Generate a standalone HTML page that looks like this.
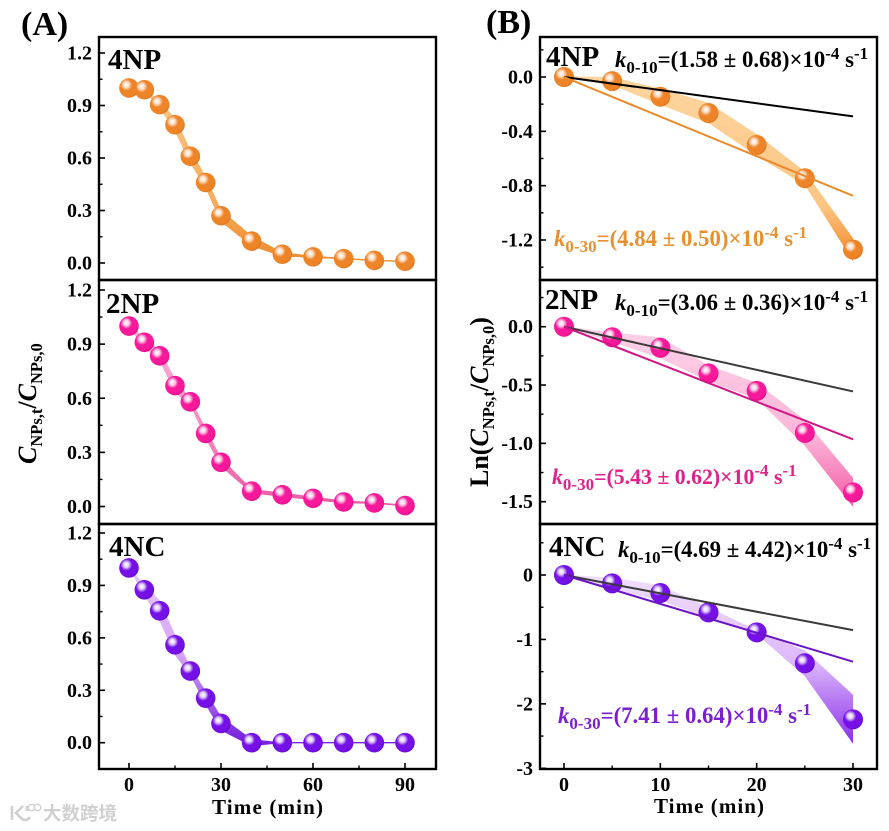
<!DOCTYPE html>
<html lang="en">
<head>
<meta charset="utf-8">
<title>Degradation kinetics of 4NP, 2NP and 4NC</title>
<style>
html,body{margin:0;padding:0;background:#fff;}
svg{display:block;}
text{font-family:"Liberation Serif","Noto Serif CJK SC",serif;font-weight:bold;fill:#000;}
.tick{font-size:20px;}
.tag{font-size:29px;}
.k{font-size:22.8px;}
.wm{font-family:"Liberation Sans","Noto Sans CJK SC",sans-serif;font-weight:700;font-size:18.5px;fill:#d0d0d0;}
</style>
</head>
<body>
<svg id="chart" xmlns="http://www.w3.org/2000/svg" width="889" height="831" viewBox="0 0 889 831">
  <defs id="defs"></defs>
  <g id="marks"></g>

  <text x="21" y="35" font-size="34">(A)</text>
  <text x="486" y="33" font-size="34">(B)</text>

  <text class="tag" x="108" y="69">4NP</text>
  <text class="tag" x="106" y="313">2NP</text>
  <text class="tag" x="109" y="556">4NC</text>
  <text class="tag" x="546" y="66">4NP</text>
  <text class="tag" x="545" y="309">2NP</text>
  <text class="tag" x="549" y="556">4NC</text>

  <text class="k" x="615" y="67"><tspan font-style="italic">k</tspan><tspan font-size="17" dy="6">0-10</tspan><tspan dy="-6">=(1.58 ± 0.68)×10</tspan><tspan font-size="17" dy="-8">-4</tspan><tspan dy="8"> s</tspan><tspan font-size="17" dy="-8">-1</tspan></text>
  <text class="k" x="554" y="246" style="fill:#e8902f"><tspan font-style="italic" style="fill:#e8902f">k</tspan><tspan font-size="17" dy="6" style="fill:#e8902f">0-30</tspan><tspan dy="-6" style="fill:#e8902f">=(4.84 ± 0.50)×10</tspan><tspan font-size="17" dy="-8" style="fill:#e8902f">-4</tspan><tspan dy="8" style="fill:#e8902f"> s</tspan><tspan font-size="17" dy="-8" style="fill:#e8902f">-1</tspan></text>
  <text class="k" x="615" y="310"><tspan font-style="italic">k</tspan><tspan font-size="17" dy="6">0-10</tspan><tspan dy="-6">=(3.06 ± 0.36)×10</tspan><tspan font-size="17" dy="-8">-4</tspan><tspan dy="8"> s</tspan><tspan font-size="17" dy="-8">-1</tspan></text>
  <text class="k" x="552" y="484" font-size="21.5" style="fill:#e0218a;font-size:21.8px"><tspan font-style="italic" style="fill:#e0218a">k</tspan><tspan font-size="17" dy="6" style="fill:#e0218a">0-30</tspan><tspan dy="-6" style="fill:#e0218a">=(5.43 ± 0.62)×10</tspan><tspan font-size="17" dy="-8" style="fill:#e0218a">-4</tspan><tspan dy="8" style="fill:#e0218a"> s</tspan><tspan font-size="17" dy="-8" style="fill:#e0218a">-1</tspan></text>
  <text class="k" x="618" y="557"><tspan font-style="italic">k</tspan><tspan font-size="17" dy="6">0-10</tspan><tspan dy="-6">=(4.69 ± 4.42)×10</tspan><tspan font-size="17" dy="-8">-4</tspan><tspan dy="8"> s</tspan><tspan font-size="17" dy="-8">-1</tspan></text>
  <text class="k" x="558" y="723" style="fill:#7a1fd2"><tspan font-style="italic" style="fill:#7a1fd2">k</tspan><tspan font-size="17" dy="6" style="fill:#7a1fd2">0-30</tspan><tspan dy="-6" style="fill:#7a1fd2">=(7.41 ± 0.64)×10</tspan><tspan font-size="17" dy="-8" style="fill:#7a1fd2">-4</tspan><tspan dy="8" style="fill:#7a1fd2"> s</tspan><tspan font-size="17" dy="-8" style="fill:#7a1fd2">-1</tspan></text>

  <text x="212" y="814" font-size="21" textLength="111">Time (min)</text>
  <text x="654" y="813" font-size="21" textLength="110">Time (min)</text>

  <text transform="translate(36,464) rotate(-90)" font-size="26"><tspan font-style="italic">C</tspan><tspan font-size="16.5" dy="6">NPs,t</tspan><tspan dy="-6" font-size="26">/</tspan><tspan font-style="italic">C</tspan><tspan font-size="16.5" dy="6">NPs,0</tspan></text>
  <text transform="translate(488,487) rotate(-90)" font-size="26">Ln(<tspan font-style="italic">C</tspan><tspan font-size="16.5" dy="6">NPs,t</tspan><tspan dy="-6">/</tspan><tspan font-style="italic">C</tspan><tspan font-size="16.5" dy="6">NPs,0</tspan><tspan dy="-6">)</tspan></text>

  <g>
    <path d="M12 806v14M23 806l-7 7 6 6c3 2 6 1 8-2M27 811v-5" fill="none" stroke="#d0d0d0" stroke-width="2.6"/>
    <circle cx="31.5" cy="807.5" r="3.2" fill="none" stroke="#d0d0d0" stroke-width="1.4"/>
    <circle cx="37.5" cy="807.5" r="3.2" fill="none" stroke="#d0d0d0" stroke-width="1.4"/>
    <text class="wm" x="43" y="820">大数跨境</text>
  </g>
</svg>
<script>
// Shared time axes (minutes)
const timeA = [0, 5, 10, 15, 20, 25, 30, 40, 50, 60, 70, 80, 90];
const timeB = [0, 5, 10, 15, 20, 25, 30];
const fitTime = [0, 30];

// Panel A: C/C0 values and error half-widths
const a4npValues = [1.0, 0.99, 0.905, 0.79, 0.61, 0.46, 0.27, 0.125, 0.05, 0.035, 0.025, 0.015, 0.01];
const a4npErrors = [0.005, 0.01, 0.02, 0.04, 0.04, 0.035, 0.035, 0.03, 0.012, 0.006, 0.004, 0.003, 0.002];
const a2npValues = [1.0, 0.91, 0.835, 0.67, 0.58, 0.405, 0.245, 0.085, 0.065, 0.045, 0.025, 0.02, 0.005];
const a2npErrors = [0.005, 0.03, 0.03, 0.04, 0.02, 0.03, 0.025, 0.012, 0.012, 0.01, 0.008, 0.005, 0.004];
const a4ncValues = [1.0, 0.875, 0.755, 0.56, 0.41, 0.255, 0.11, 0.0, 0.0, 0.0, 0.0, 0.0, 0.0];
const a4ncErrors = [0.005, 0.03, 0.06, 0.06, 0.025, 0.04, 0.04, 0.02, 0.002, 0.002, 0.002, 0.002, 0.002];

// Panel B: ln(C/C0) values, error half-widths, and fit lines
const b4npValues = [0, -0.03, -0.145, -0.265, -0.5, -0.745, -1.27];
const b4npErrors = [0.005, 0.03, 0.06, 0.075, 0.08, 0.05, 0.085];
const b4npFit10 = [0, -0.29];
const b4npFit30 = [0, -0.875];
const b2npValues = [0, -0.09, -0.18, -0.4, -0.55, -0.91, -1.42];
const b2npErrors = [0.005, 0.04, 0.09, 0.07, 0.07, 0.11, 0.125];
const b2npFit10 = [0, -0.555];
const b2npFit30 = [0, -0.965];
const b4ncValues = [0, -0.13, -0.28, -0.58, -0.89, -1.37, -2.24];
const b4ncErrors = [0.005, 0.09, 0.12, 0.08, 0.03, 0.2, 0.38];
const b4ncFit10 = [0, -0.855];
const b4ncFit30 = [0, -1.345];

// Tick values
const aXTicks = [0, 30, 60, 90];
const aXMinor = [15, 45, 75];
const aYTicks = [0, 0.3, 0.6, 0.9, 1.2];
const aYMinor = [0.15, 0.45, 0.75, 1.05];
const bXTicks = [0, 10, 20, 30];
const bXMinor = [5, 15, 25];
const b4npYTicks = [0, -0.4, -0.8, -1.2];
const b4npYMinor = [0.2, -0.2, -0.6, -1.0, -1.4];
const b2npYTicks = [0, -0.5, -1.0, -1.5];
const b2npYMinor = [0.25, -0.25, -0.75, -1.25];
const b4ncYTicks = [0, -1, -2, -3];
const b4ncYMinor = [0.5, -0.5, -1.5, -2.5];

const NS = 'http://www.w3.org/2000/svg';
const root = document.getElementById('marks');
const defs = document.getElementById('defs');

function el(tag, attrs, parent) {
  const n = document.createElementNS(NS, tag);
  for (const k in attrs) n.setAttribute(k, attrs[k]);
  parent.appendChild(n);
  return n;
}
function linear(d0, p0, d1, p1) {
  return v => p0 + (v - d0) * (p1 - p0) / (d1 - d0);
}
function addGradients(id, light, mid, dark, midAt, base, tint, deep, y0, y1) {
  const band = el('linearGradient', {id: 'band-' + id, gradientUnits: 'userSpaceOnUse', x1: 0, y1: y0, x2: 0, y2: y1}, defs);
  el('stop', {offset: '0', 'stop-color': light}, band);
  el('stop', {offset: midAt, 'stop-color': mid}, band);
  el('stop', {offset: '1', 'stop-color': dark}, band);
  const ball = el('radialGradient', {id: 'ball-' + id, cx: '0.38', cy: '0.36', r: '0.7', fx: '0.36', fy: '0.33'}, defs);
  el('stop', {offset: '0', 'stop-color': '#ffffff'}, ball);
  el('stop', {offset: '0.2', 'stop-color': tint}, ball);
  el('stop', {offset: '0.42', 'stop-color': base}, ball);
  el('stop', {offset: '0.82', 'stop-color': base}, ball);
  el('stop', {offset: '1', 'stop-color': deep}, ball);
}

function drawPanel(p) {
  const g = el('g', {}, root);
  
  
  const sx = p.sx, sy = p.sy;

  // Error band
  const up = p.t.map((t, i) => sx(t).toFixed(1) + ',' + sy(p.v[i] + p.e[i]).toFixed(1));
  const lo = p.t.map((t, i) => sx(t).toFixed(1) + ',' + sy(p.v[i] - p.e[i]).toFixed(1)).reverse();
  const band = el('polygon', {points: up.concat(lo).join(' '), fill: 'url(#band-' + p.grad + ')'}, g);
  
  

  // Connecting line in the band colour
  const line = el('polyline', {points: p.t.map((t, i) => sx(t).toFixed(1) + ',' + sy(p.v[i]).toFixed(1)).join(' '), fill: 'none', stroke: 'url(#band-' + p.grad + ')', 'stroke-width': 1.4}, g);
  
  

  // Points
  p.t.forEach((t, i) => {
    const c = el('circle', {cx: sx(t), cy: sy(p.v[i]), r: p.r, fill: 'url(#ball-' + p.grad + ')'}, g);
    
    
  });

  // Fit lines drawn above the points
  if (p.fit10) {
    const a = el('line', {x1: sx(fitTime[0]), y1: sy(p.fit10[0]), x2: sx(fitTime[1]), y2: sy(p.fit10[1]), stroke: p.fit10Color, 'stroke-width': 2}, g);
    
    
    const b = el('line', {x1: sx(fitTime[0]), y1: sy(p.fit30[0]), x2: sx(fitTime[1]), y2: sy(p.fit30[1]), stroke: p.fit30Color, 'stroke-width': 2}, g);
    
    
  }

  // Frame
  const f = el('rect', {x: p.x0, y: p.y0, width: p.x1 - p.x0, height: p.y1 - p.y0, fill: 'none', stroke: '#000', 'stroke-width': 2.4}, g);
  
  

  // Y ticks
  p.yTicks.forEach(v => {
    const y = sy(v);
    const tk = el('line', {x1: p.x0, y1: y, x2: p.x0 + 6, y2: y, stroke: '#000', 'stroke-width': 1.6}, g);
    
    
    const tx = el('text', {class: 'tick', x: p.x0 - 7, y: y + 6.5, 'text-anchor': 'end'}, g);
    
    
    tx.textContent = v.toFixed(p.yDigits);
  });
  p.yMinor.forEach(v => {
    const y = sy(v);
    const tk = el('line', {x1: p.x0, y1: y, x2: p.x0 + 3.5, y2: y, stroke: '#000', 'stroke-width': 1.4}, g);
    
    
  });

  // X ticks (bottom panels only)
  if (p.xTicks) {
    p.xTicks.forEach(v => {
      const x = sx(v);
      const tk = el('line', {x1: x, y1: p.y1, x2: x, y2: p.y1 - 6, stroke: '#000', 'stroke-width': 1.6}, g);
      
      
      const tx = el('text', {class: 'tick', x: x, y: 791, 'text-anchor': 'middle'}, g);
      
      
      tx.textContent = String(v);
    });
    p.xMinor.forEach(v => {
      const x = sx(v);
      const tk = el('line', {x1: x, y1: p.y1, x2: x, y2: p.y1 - 3.5, stroke: '#000', 'stroke-width': 1.4}, g);
      
      
    });
  }
}

addGradients('a4np', '#fbc88c', '#f7b060', '#ee8a2c', '0.6', '#ee8428', '#fde0c8', '#d9701a', 80, 265);
addGradients('a2np', '#fab4d6', '#f28abd', '#ea5aa4', '0.6', '#f8189a', '#fdcde6', '#dc0c80', 330, 505);
addGradients('a4nc', '#e6c6fb', '#d6a4f8', '#7a22de', '0.5', '#7510e6', '#e0ccfc', '#5a08c0', 570, 740);
addGradients('b4np', '#fdd59e', '#fcc584', '#f08c2c', '0.72', '#ee8428', '#fde0c8', '#d9701a', 80, 255);
addGradients('b2np', '#fcd0e6', '#fbb6d8', '#f464aa', '0.62', '#f8189a', '#fdcde6', '#dc0c80', 330, 500);
addGradients('b4nc', '#eedcfd', '#dcb8fb', '#8a2ee8', '0.5', '#7510e6', '#e0ccfc', '#5a08c0', 580, 745);

const sxA = linear(0, 129, 90, 405);
const sxB = linear(0, 564, 30, 853);

drawPanel({id: 'a-4np', grad: 'a4np', r: 9.8, x0: 99, x1: 436, y0: 37, y1: 280, sx: sxA, sy: linear(0, 263, 1.2, 53), t: timeA, v: a4npValues, e: a4npErrors, yTicks: aYTicks, yMinor: aYMinor, yDigits: 1});
drawPanel({id: 'a-2np', grad: 'a2np', r: 9.8, x0: 99, x1: 436, y0: 280, y1: 524, sx: sxA, sy: linear(0, 506.5, 1.2, 290), t: timeA, v: a2npValues, e: a2npErrors, yTicks: aYTicks, yMinor: aYMinor, yDigits: 1});
drawPanel({id: 'a-4nc', grad: 'a4nc', r: 9.8, x0: 99, x1: 436, y0: 524, y1: 769, sx: sxA, sy: linear(0, 742.7, 1.2, 533), t: timeA, v: a4ncValues, e: a4ncErrors, yTicks: aYTicks, yMinor: aYMinor, yDigits: 1, xTicks: aXTicks, xMinor: aXMinor});

drawPanel({id: 'b-4np', grad: 'b4np', r: 10, x0: 540, x1: 877, y0: 37, y1: 280, sx: sxB, sy: linear(0, 77, -1.2, 240), t: timeB, v: b4npValues, e: b4npErrors, fit10: b4npFit10, fit30: b4npFit30, fit10Color: '#000', fit30Color: '#e98a2c', yTicks: b4npYTicks, yMinor: b4npYMinor, yDigits: 1});
drawPanel({id: 'b-2np', grad: 'b2np', r: 10, x0: 540, x1: 877, y0: 280, y1: 524, sx: sxB, sy: linear(0, 326.7, -1.5, 501.7), t: timeB, v: b2npValues, e: b2npErrors, fit10: b2npFit10, fit30: b2npFit30, fit10Color: '#3a3a3a', fit30Color: '#cf1684', yTicks: b2npYTicks, yMinor: b2npYMinor, yDigits: 1});
drawPanel({id: 'b-4nc', grad: 'b4nc', r: 10, x0: 540, x1: 877, y0: 524, y1: 769, sx: sxB, sy: linear(0, 575, -3, 768.3), t: timeB, v: b4ncValues, e: b4ncErrors, fit10: b4ncFit10, fit30: b4ncFit30, fit10Color: '#3a3a3a', fit30Color: '#6a14c4', yTicks: b4ncYTicks, yMinor: b4ncYMinor, yDigits: 0, xTicks: bXTicks, xMinor: bXMinor});
</script>
</body>
</html>
